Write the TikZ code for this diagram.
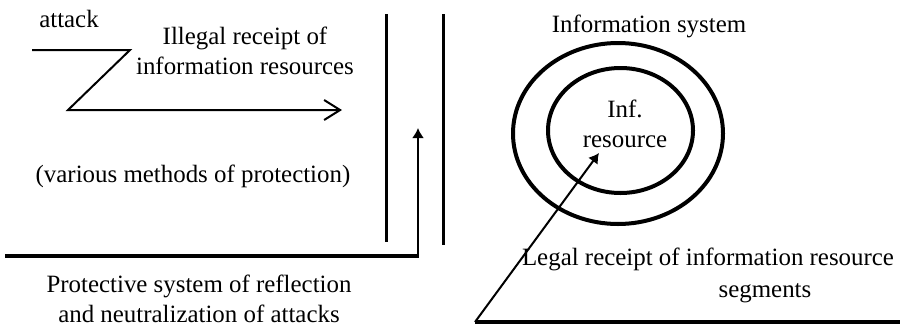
\documentclass[tikz,border=0pt]{standalone}
\usepackage{fontspec}
\setmainfont{Liberation Serif}
\usetikzlibrary{arrows.meta}

\newcommand*{\picw}{904}
\newcommand*{\pich}{327}

\begin{document}
\begin{tikzpicture}
[
	x=0.5pt, y=-0.5pt,
	txt/.style={font=\fontsize{12.45}{15}\selectfont,inner sep=0pt,align=center},
	wall/.style={line width=1.5pt},
	baseline/.style={line width=1.6pt},
	ring/.style={line width=2pt},
	conn/.style={line width=1pt},
	openarr/.style={-{Straight Barb[length=8pt,width=10pt]}},
	filledarr/.style={-{Latex[length=5pt,width=6pt]}}
]
	\useasboundingbox (0,0) rectangle (\picw,\pich);

	% attack path
	\node[txt,anchor=north] (attack) at (69,10) {attack};
	\node[txt,anchor=north] (illegal) at (245,27) {Illegal receipt of\\information resources};
	\coordinate (atkstart) at (32,50);
	\coordinate (atkend) at (342,110);
	\draw[conn,openarr] (atkstart) -- (130,50) -- (68,110) -- (atkend);

	% protection
	\node[txt,anchor=north] (methods) at (193,165) {(various methods of protection)};
	\draw[wall] (386,14) -- (386,242);
	\draw[wall] (443,14) -- (443,245);
	\coordinate (protstart) at (5,256);
	\coordinate (protend) at (418,128);
	\draw[baseline] (protstart) -- (419,256);
	\draw[conn,filledarr] (418,256) -- (protend);
	\node[txt,anchor=north] (protective) at (199,275)
		{Protective system of reflection\\and neutralization of attacks};

	% information system
	\node[txt,anchor=north] (infsys) at (649,15) {Information system};
	\coordinate (outer) at (618,133.5);
	\coordinate (inner) at (620.5,130.5);
	\draw[ring] (outer) ellipse [x radius=105, y radius=90.5];
	\draw[ring] (inner) ellipse [x radius=72.5, y radius=62.5];
	\node[txt,anchor=north] (infres) at (625,100) {Inf.\\resource};

	% legal path
	\coordinate (legal) at (475,322);
	\coordinate (legalend) at (599,153);
	\draw[baseline] (legal) -- (900,322);
	\draw[conn,filledarr] (legal) -- (legalend);
	\node[txt,anchor=north] (legaltxt) at (708,248) {Legal receipt of information resource};
	\node[txt,anchor=north] (segments) at (765,283) {segments};

\end{tikzpicture}
\end{document}
